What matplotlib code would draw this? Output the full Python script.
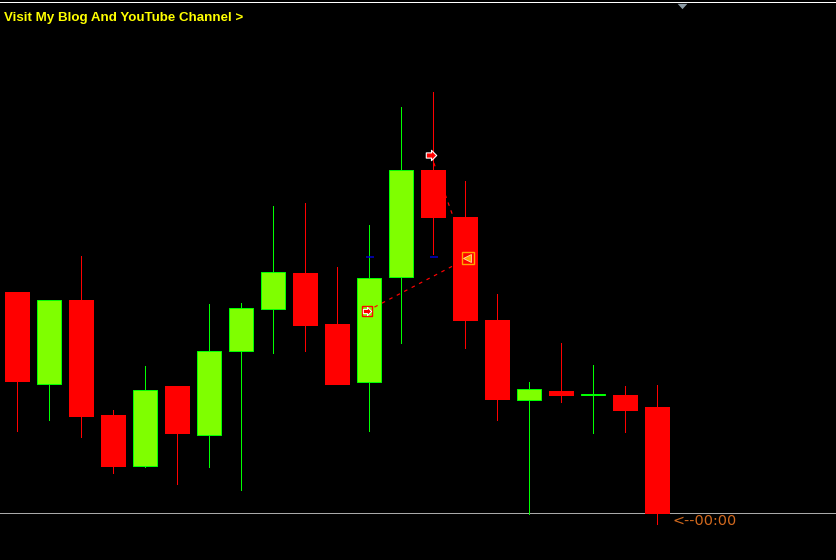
import matplotlib
matplotlib.use("Agg")
import matplotlib.pyplot as plt
from matplotlib.path import Path

# no price axis on the chart, so values are read as screen rows
opens = [292, 385, 300, 415, 467, 386, 436, 352, 310, 273, 324, 383, 278, 170, 217, 320, 401, 391, 396, 395, 407]
closes = [382, 300, 417, 467, 390, 434, 351, 308, 272, 326, 385, 278, 170, 218, 321, 400, 389, 396, 394, 411, 514]
highs = [292, 300, 256, 410, 366, 386, 304, 303, 206, 203, 267, 225, 107, 92, 181, 294, 382, 343, 365, 386, 385]
lows = [432, 421, 438, 474, 468, 485, 468, 491, 354, 352, 385, 432, 344, 255, 349, 421, 515, 403, 434, 433, 525]

trade_idx = [11, 13, 14]
trade_prices = [311, 155, 258]
level_idx = [11, 13]
level_prices = [257, 257]
bid_line = 513
top_line = 2

title_text = "Visit My Blog And YouTube Channel >"
timer_text = "<--00:00"

BULL = "#7FFF00"
BULL_EDGE = "#00FF00"
BEAR = "#FF0000"
px = 0.72  # one pixel in points at dpi 100
step = 32  # pixels per candle

fig = plt.figure(figsize=(8.36, 5.6), dpi=100, facecolor="black")
ax = fig.add_axes([0, 0, 1, 1], facecolor="black")
ax.set_axis_off()
ax.set_xlim(-17.5 / step, (836 - 17.5) / step)
ax.set_ylim(560, 0)

ax.hlines(top_line, -1, 30, color="white", lw=px, antialiased=False, zorder=1)
ax.hlines(bid_line, -1, 30, color="#A9A9A9", lw=px, antialiased=False, zorder=1)

for i in range(len(opens)):
    up = closes[i] < opens[i]
    top = min(opens[i], closes[i])
    bottom = max(opens[i], closes[i])
    color = BULL_EDGE if up else BEAR
    ax.vlines(i - 0.7 / step, highs[i], lows[i] - 0.6, color=color, lw=px, antialiased=False, zorder=2)
    if up:
        ax.bar(i - 0.7 / step, bottom - top - 1, bottom=top - 0.3, width=24 / step, color=BULL,
               edgecolor=BULL_EDGE, linewidth=px, zorder=3)
    else:
        ax.bar(i, bottom - top, bottom=top, width=25 / step, color=BEAR, linewidth=0, zorder=3)

# trade lines
x_open = trade_idx[0] - 2.5 / step
x_exit = trade_idx[2] + 2.5 / step
x_arrow = trade_idx[1] - 2.5 / step
ax.plot([x_open, x_exit], [trade_prices[0], trade_prices[2]], color=BEAR,
        lw=px * 1.2, dashes=(3, 4), zorder=4)
ax.plot([x_arrow, x_exit], [trade_prices[1], trade_prices[2]], color=BEAR,
        lw=px * 1.2, dashes=(3, 4), zorder=4)

ax.plot(level_idx, level_prices, linestyle="none", marker="_", markersize=6, mew=1.1,
        color="#0000CD", zorder=2)

arrow = Path([(-1, -0.5), (0, -0.5), (0, -1), (1, 0), (0, 1), (0, 0.5), (-1, 0.5), (-1, -0.5)], closed=True)
ax.plot(x_open, trade_prices[0], marker="s", markersize=7.5, mfc="none", mec=BEAR, mew=1, zorder=5)
ax.plot(x_open, trade_prices[0], marker=arrow, markersize=6, mfc=BEAR, mec="white", mew=0.7, zorder=6)
ax.plot(x_arrow, trade_prices[1], marker=arrow, markersize=7.5, mfc=BEAR, mec="white", mew=0.8, zorder=6)
ax.plot(x_exit, trade_prices[2], marker="s", markersize=8, mfc="none", mec="#FFA500", mew=1, zorder=5)
ax.plot(x_exit - 1 / step, trade_prices[2], marker="<", markersize=6, mfc="#FFA500", mec="#FFE0A0", mew=0.6, zorder=6)

# small grey marker under the top line
wedge = Path([(-1, 0.55), (1, 0.55), (0, -0.55), (-1, 0.55)], closed=True)
ax.plot(20.75, 5.5, marker=wedge, markersize=7, color="#8C9BA5", mew=0, zorder=2)

ax.text(-17.5 / step + 4 / step, 17.5, title_text, color="#FFFF00", fontsize=9.6, fontweight="bold",
        family="Liberation Sans", va="center", ha="left")
ax.text(20 + 15.5 / step, 521, timer_text, color="#D2691E", fontsize=10.4,
        family="DejaVu Sans", va="center", ha="left", zorder=5)

fig.savefig("out.png", dpi=100, facecolor="black")
